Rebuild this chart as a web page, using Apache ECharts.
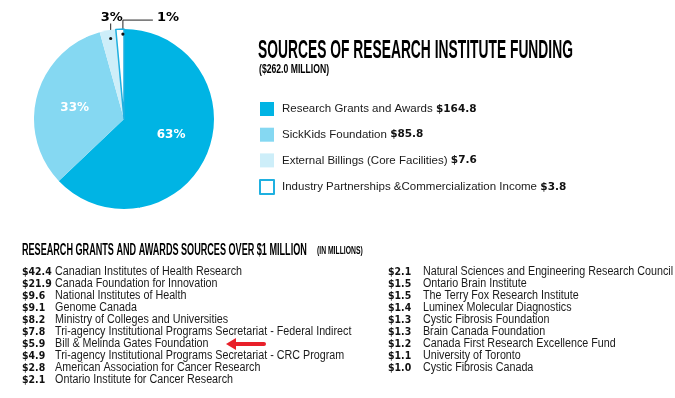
<!doctype html>
<html lang="en">
  <head>
    <meta charset="utf-8">
    <title>Research Institute Funding</title>
    <script src="https://cdn.jsdelivr.net/npm/echarts@6.0.0/dist/echarts.min.js"></script>
    <style>
      html, body {
        width: 100%;
        height: 100%;
        margin: 0;
        background: #fff;
      }

      #chart {
        width: 675px;
        height: 398px;
      }
    </style>
  </head>
  <body>
    <div id="chart"></div>
    <script>
      // funding sources ($ millions)
      const sourceNames = [
        'Research Grants and Awards',
        'SickKids Foundation',
        'External Billings (Core Facilities)',
        'Industry Partnerships &Commercialization Income'
      ];
      const sourceValues = [164.8, 85.8, 7.6, 3.8];
      const sourceColors = ['#00b4e4', '#85d8f2', '#cdeef9', '#ffffff'];

      // grants and awards over $1M, two columns
      const grantValuesLeft = ['$42.4', '$21.9', '$9.6', '$9.1', '$8.2', '$7.8', '$5.9', '$4.9', '$2.8', '$2.1'];
      const grantNamesLeft = [
        'Canadian Institutes of Health Research',
        'Canada Foundation for Innovation',
        'National Institutes of Health',
        'Genome Canada',
        'Ministry of Colleges and Universities',
        'Tri-agency Institutional Programs Secretariat - Federal Indirect',
        'Bill & Melinda Gates Foundation',
        'Tri-agency Institutional Programs Secretariat - CRC Program',
        'American Association for Cancer Research',
        'Ontario Institute for Cancer Research'
      ];
      const grantValuesRight = ['$2.1', '$1.5', '$1.5', '$1.4', '$1.3', '$1.3', '$1.2', '$1.1', '$1.0'];
      const grantNamesRight = [
        'Natural Sciences and Engineering Research Council',
        'Ontario Brain Institute',
        'The Terry Fox Research Institute',
        'Luminex Molecular Diagnostics',
        'Cystic Fibrosis Foundation',
        'Brain Canada Foundation',
        'Canada First Research Excellence Fund',
        'University of Toronto',
        'Cystic Fibrosis Canada'
      ];

      const total = sourceValues.reduce((a, b) => a + b, 0);

      const bodyFont = "'Liberation Sans', Arial, sans-serif";
      const heavyFont = "'DejaVu Sans', sans-serif";

      let chartDom = document.getElementById('chart');
      let chart = echarts.init(chartDom, null, {renderer: 'canvas'});

      // list text is squeezed a little (scaleX) to get the narrow look of the original
      const listScale = 0.895;
      const listRich = {
        v: { font: 'bold 10.5px ' + heavyFont, fill: '#111', width: 37 },
        w: { font: 'bold 10.5px ' + heavyFont, fill: '#111', width: 39 },
        n: { font: '12px ' + bodyFont, fill: '#1a1a1a' }
      };

      function listText(values, names, key) {
        return values.map((v, i) => '{' + key + '|' + v + '}{n|' + names[i] + '}').join('\n');
      }

      // small nudges for the two big in-slice labels
      const insideShift = [[3, -3], [-3, 2]];

      let leaderDots = {};

      let option = {
        animation: false,
        legend: {
          orient: 'vertical',
          left: 259,
          top: 102,
          padding: 0,
          itemWidth: 14,
          itemHeight: 14,
          itemGap: 11.7,
          icon: 'rect',
          data: sourceNames,
          formatter: (name) => {
            let i = sourceNames.indexOf(name);
            return '{a|' + name + '} {b|$' + sourceValues[i].toFixed(1) + '}';
          },
          textStyle: {
            rich: {
              a: { fontFamily: bodyFont, fontSize: 11.5, color: '#1a1a1a', padding: [0, 0, 0, 3] },
              b: { fontFamily: heavyFont, fontSize: 10.5, fontWeight: 'bold', color: '#111' }
            }
          }
        },
        series: [
          {
            type: 'pie',
            center: [124, 119],
            radius: 90,
            startAngle: 90,
            clockwise: true,
            avoidLabelOverlap: false,
            label: {
              show: true,
              position: 'inside',
              color: '#fff',
              fontFamily: heavyFont,
              fontWeight: 'bold',
              fontSize: 12,
              formatter: (p) => Math.round(p.value / total * 100) + '%'
            },
            labelLayout: (params) => {
              let pts = params.labelLinePoints;
              let r = params.labelRect;
              if (params.dataIndex < 2) {
                let s = insideShift[params.dataIndex];
                return {
                  x: r.x + r.width / 2 + s[0], y: r.y + r.height / 2 + s[1],
                  align: 'center', verticalAlign: 'middle'
                };
              }
              if (!pts) return {};
              let x0 = pts[0][0];
              let y0 = pts[0][1];
              if (params.dataIndex === 2) {
                leaderDots[2] = [x0 + 3, y0 + 8];
                return {
                  x: x0 + 4, y: y0 - 13, align: 'center', verticalAlign: 'middle',
                  labelLinePoints: [[x0 + 3, y0 - 7], [x0 + 3, y0 + 1], [x0 + 3, y0 + 8]]
                };
              }
              leaderDots[3] = [x0 + 3, y0 + 5];
              return {
                x: x0 + 37, y: y0 - 11, align: 'left', verticalAlign: 'middle',
                labelLinePoints: [[x0 + 3, y0 + 5], [x0 + 3, y0 - 9], [x0 + 33, y0 - 9]]
              };
            },
            data: sourceValues.map((v, i) => {
              let item = {
                name: sourceNames[i],
                value: v,
                itemStyle: { color: sourceColors[i] }
              };
              if (i >= 2) {
                item.label = {
                  position: 'outside',
                  color: '#000',
                  fontSize: 13,
                  fontWeight: 'bold'
                };
                item.labelLine = {
                  show: true,
                  length: 5,
                  length2: 5,
                  lineStyle: { color: '#222', width: 1 }
                };
              }
              if (i === 3) {
                item.itemStyle.borderColor = '#1fb0e0';
                item.itemStyle.borderWidth = 1.5;
              }
              return item;
            })
          }
        ],
        graphic: [
          {
            type: 'text',
            x: 258,
            y: 39,
            scaleX: 0.553,
            style: {
              text: 'SOURCES OF RESEARCH INSTITUTE FUNDING',
              font: 'bold 25px "Liberation Sans", Arial, sans-serif',
              fill: '#000',
              textVerticalAlign: 'top'
            }
          },
          {
            type: 'text',
            x: 259,
            y: 64,
            scaleX: 0.72,
            style: {
              text: '($262.0 MILLION)',
              font: 'bold 12px "Liberation Sans", Arial, sans-serif',
              fill: '#000',
              textVerticalAlign: 'top'
            }
          },
          {
            type: 'text',
            x: 22,
            y: 243,
            scaleX: 0.568,
            style: {
              text: 'RESEARCH GRANTS AND AWARDS SOURCES OVER $1 MILLION',
              font: 'bold 16px "Liberation Sans", Arial, sans-serif',
              fill: '#000',
              textVerticalAlign: 'top'
            }
          },
          {
            type: 'text',
            x: 317,
            y: 246,
            scaleX: 0.68,
            style: {
              text: '(IN MILLIONS)',
              font: 'bold 10px "Liberation Sans", Arial, sans-serif',
              fill: '#000',
              textVerticalAlign: 'top'
            }
          },
          {
            type: 'text',
            x: 22,
            y: 266,
            scaleX: listScale,
            style: {
              text: listText(grantValuesLeft, grantNamesLeft, 'v'),
              rich: listRich,
              lineHeight: 12,
              textVerticalAlign: 'top'
            }
          },
          {
            type: 'text',
            x: 388,
            y: 266,
            scaleX: listScale,
            style: {
              text: listText(grantValuesRight, grantNamesRight, 'w'),
              rich: listRich,
              lineHeight: 12,
              textVerticalAlign: 'top'
            }
          },
          // red arrow pointing at the Gates Foundation row
          {
            type: 'line',
            shape: { x1: 234, y1: 344, x2: 264, y2: 344 },
            style: { stroke: '#e8202a', lineWidth: 4, lineCap: 'round' }
          },
          {
            type: 'polygon',
            shape: { points: [[226, 344], [236, 338], [236, 350]] },
            style: { fill: '#e8202a' }
          }
        ]
      };

      chart.setOption(option);

      // dots at the inner end of the small-slice leader lines
      chart.setOption({
        graphic: option.graphic.concat(Object.keys(leaderDots).map((k) => ({
          type: 'circle',
          shape: { cx: leaderDots[k][0], cy: leaderDots[k][1], r: 1.6 },
          style: { fill: '#111' },
          z: 10
        })))
      });

      window.addEventListener('resize', () => {
        chart.resize();
      });
    </script>
  </body>
</html>
